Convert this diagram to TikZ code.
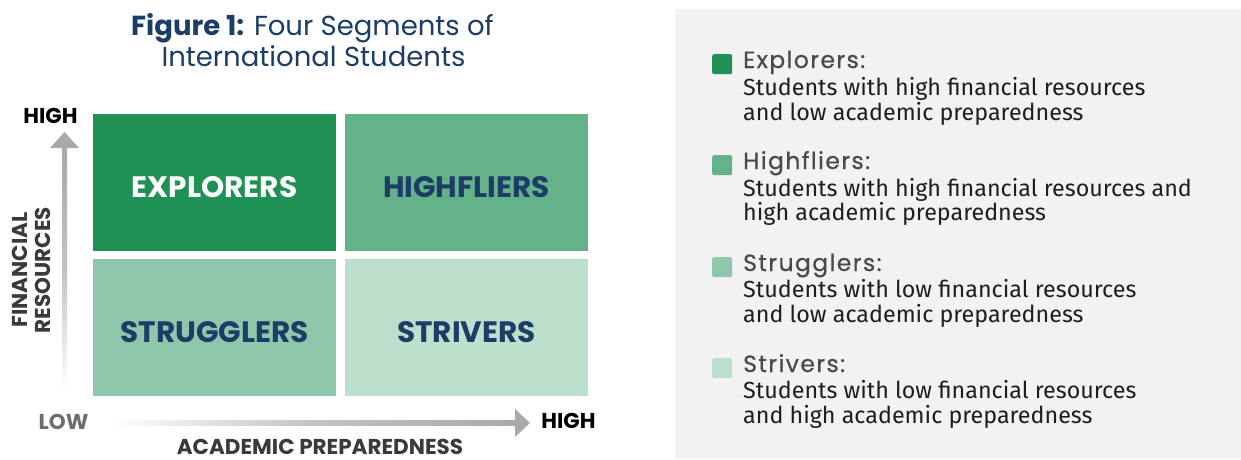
\documentclass[tikz,border=0pt]{standalone}
\usepackage{fontspec}
\setmainfont{Fira Sans}
\newfontfamily\headfont{Poppins}
\newfontfamily\legheadfont[LetterSpace=6,FakeBold=0.6]{Poppins}
\definecolor{cExp}{HTML}{209155}
\definecolor{cHigh}{HTML}{63B28A}
\definecolor{cStr}{HTML}{8FC7AA}
\definecolor{cStv}{HTML}{BCE0CC}
\definecolor{navy}{HTML}{1B3D66}
\definecolor{panelgray}{HTML}{F2F2F2}
\definecolor{arrowgray}{HTML}{A7A9AC}
\definecolor{lowgray}{HTML}{6D6E71}
\definecolor{axisdark}{HTML}{3A3A3A}
\definecolor{legtitle}{HTML}{4A4A4C}
\definecolor{legtext}{HTML}{1E1E1E}
\begin{document}
\begin{tikzpicture}[x=1pt,y=1pt,
  quad/.style={minimum width=243pt,minimum height=137pt,inner sep=0pt,anchor=north west},
  quadlabel/.style={font=\headfont\bfseries\fontsize{29.5}{33}\selectfont,anchor=base,inner sep=0pt},
  axislabel/.style={font=\headfont\bfseries\fontsize{21.5}{25}\selectfont,anchor=base,inner sep=0pt},
  legsq/.style={rounded corners=2pt,minimum size=20pt,inner sep=0pt},
  legtitlestyle/.style={font=\legheadfont\fontsize{23.5}{27}\selectfont,text=legtitle,anchor=base west,inner sep=0pt},
  legline/.style={font=\fontsize{23.3}{25}\selectfont,text=legtext,anchor=base west,inner sep=0pt},
  titlestyle/.style={font=\headfont\fontsize{27.5}{32}\selectfont,text=navy,anchor=base,inner sep=0pt}
]
\useasboundingbox (0,0) rectangle (1241,459);
\fill[white] (0,0) rectangle (1241,459);
% legend panel
\fill[panelgray] (675,0) rectangle (1241,450);

% title
\node[titlestyle] (t1) at (312.5,423) {\textbf{Figure 1:} Four Segments of};
\node[titlestyle] (t2) at (313.5,392) {International Students};

% quadrants
\node[quad,fill=cExp]  (exp) at (93,345) {};
\node[quad,fill=cHigh] (hif) at (345,345) {};
\node[quad,fill=cStr]  (str) at (93,200) {};
\node[quad,fill=cStv]  (stv) at (345,200) {};
\node[quadlabel,text=white] (lexp) at (214.5,262) {EXPLORERS};
\node[quadlabel,text=navy]  (lhif) at (466.5,262) {HIGHFLIERS};
\node[quadlabel,text=navy]  (lstr) at (214.5,117) {STRUGGLERS};
\node[quadlabel,text=navy]  (lstv) at (466.5,117) {STRIVERS};

% vertical axis arrow
\shade[bottom color=white,top color=arrowgray,middle color=arrowgray!70] (62,69) rectangle (67,312);
\fill[arrowgray] (50,311) -- (64.5,327) -- (79,311) -- cycle;
% horizontal axis arrow
\shade[left color=white,right color=arrowgray,middle color=arrowgray!70] (110,33.5) rectangle (516,38.5);
\fill[arrowgray] (515,50) -- (530,36) -- (515,22) -- cycle;

% axis labels
\node[axislabel,text=black] (hy) at (50.5,336) {HIGH};
\node[axislabel,text=lowgray] (lo) at (63.5,30) {LOW};
\node[axislabel,text=black] (hx) at (568.5,31) {HIGH};
\node[axislabel,text=axisdark] (ax) at (320,4.5) {ACADEMIC PREPAREDNESS};
\node[axislabel,text=axisdark,rotate=90] (fin) at (27.5,189) {FINANCIAL};
\node[axislabel,text=axisdark,rotate=90] (res) at (50.5,189) {RESOURCES};

% legend
\node[legsq,fill=cExp,anchor=north west]  (s1) at (712,405) {};
\node[legtitlestyle] (g1) at (743,391) {Explorers:};
\node[legline] (g1a) at (743,364) {Students with high financial resources};
\node[legline] (g1b) at (743,339) {and low academic preparedness};

\node[legsq,fill=cHigh,anchor=north west] (s2) at (712,304) {};
\node[legtitlestyle] (g2) at (743,290) {Highfliers:};
\node[legline] (g2a) at (743,263) {Students with high financial resources and};
\node[legline] (g2b) at (743,239) {high academic preparedness};

\node[legsq,fill=cStr,anchor=north west]  (s3) at (712,202) {};
\node[legtitlestyle] (g3) at (743,188) {Strugglers:};
\node[legline] (g3a) at (743,162) {Students with low financial resources};
\node[legline] (g3b) at (743,137) {and low academic preparedness};

\node[legsq,fill=cStv,anchor=north west]  (s4) at (712,101) {};
\node[legtitlestyle] (g4) at (743,87) {Strivers:};
\node[legline] (g4a) at (743,61) {Students with low financial resources};
\node[legline] (g4b) at (743,36) {and high academic preparedness};
\end{tikzpicture}
\end{document}
